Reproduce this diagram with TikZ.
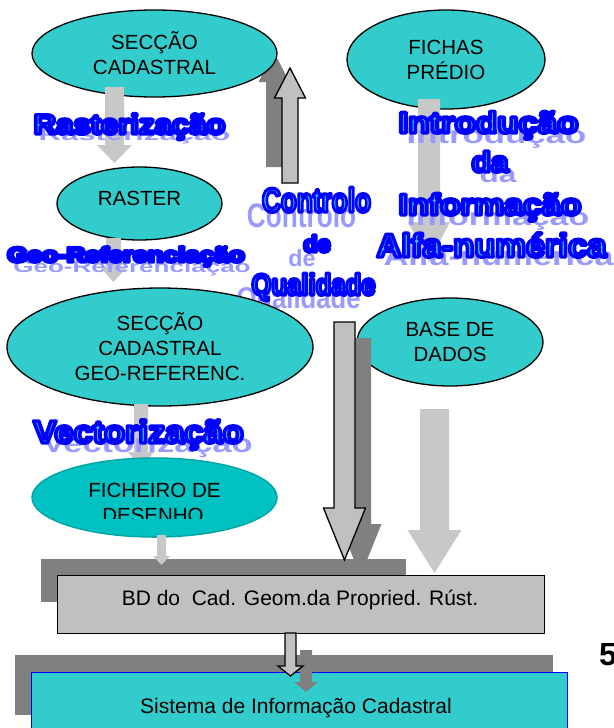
\documentclass[tikz,border=0pt]{standalone}
\usepackage{fontspec}
\setmainfont{Liberation Sans}
\newfontfamily\wfont{Liberation Sans}
\usetikzlibrary{shapes.geometric,calc}
\definecolor{turq}{HTML}{33CCCC}
\definecolor{fichc}{HTML}{00C2C2}
\definecolor{fichb}{HTML}{00A6A6}
\definecolor{lgray}{HTML}{C8C8C8}
\definecolor{mgray}{HTML}{C0C0C0}
\definecolor{dgray}{HTML}{808080}
\definecolor{wfill}{HTML}{33CCFF}
\definecolor{wshad}{HTML}{9999FF}
\tikzset{
  ell/.style={ellipse, draw=black, line width=1.3pt, fill=turq, inner sep=0pt, align=center, font=\fontsize{20.5}{25}\selectfont},
  txt/.style={inner sep=0pt, font=\fontsize{20.5}{25}\selectfont},
  btxt/.style={inner sep=0pt, font=\fontsize{21}{25}\selectfont},
  oarrow/.style={fill=mgray, draw=black, line width=1.3pt, line join=miter},
  larrow/.style={fill=lgray},
  sarrow/.style={fill=dgray}
}
% block arrow: centre x, start y, head-base y, tip y, half shaft, half head, style
\newcommand\blockarrow[7]{\path[#7] ({#1-#5},#2) -- ({#1+#5},#2) -- ({#1+#5},#3) -- ({#1+#6},#3) -- (#1,#4) -- ({#1-#6},#3) -- ({#1-#5},#3) -- cycle;}
% word art shadow: name, x, baseline y, size, xscale, text, dx, dy, yscale
\newcommand\wshadow[9]{%
  \node[anchor=base, inner sep=0pt, text=wshad] (#1s) at ({#2+#7},{#3+#8}) {\scalebox{#5}[#9]{\wfont\bfseries\fontsize{#4}{#4}\selectfont #6}};}
% word art face: name, x, baseline y, size, xscale, text
\newcommand\wface[6]{%
  \node[anchor=base, inner sep=0pt] (#1) at (#2,#3) {\scalebox{#5}[1]{\wfont\bfseries\fontsize{#4}{#4}\selectfont\color{wfill}\special{pdf:literal direct 2 Tr 3.4 w 1 j 0 0 1 RG}#6\special{pdf:literal direct 0 Tr 0 j 0.4 w}}};}
\begin{document}
\begin{tikzpicture}[x=1pt,y=-1pt]
\useasboundingbox (0,0) rectangle (613,728);
\clip (0,0) rectangle (613,728);
\fill[white] (0,0) rectangle (613,728);
% shadow of the quality-control arrow
\blockarrow{274}{167}{82}{52}{8}{15.5}{sarrow}
% quality-control label (lies under the ellipses)
\wshadow{ctrl}{316.5}{212}{34}{0.77}{Controlo}{-15}{15}{1}
\wshadow{ctde}{317}{252}{23.3}{1.0}{de}{-15}{14}{1}
\wshadow{qual}{313.5}{295}{30}{0.855}{Qualidade}{-15}{13}{1}
\wface{ctrl}{316.5}{212}{34}{0.77}{Controlo}
\wface{ctde}{317}{252}{23.3}{1.0}{de}
\wface{qual}{313.5}{295}{30}{0.855}{Qualidade}
% ellipses
\node[ell, minimum width=245pt, minimum height=87pt] (sec) at (154.5,53.5) {SECÇÃO\\CADASTRAL};
\node[ell, minimum width=198pt, minimum height=99pt] (fichas) at (446,59.5) {FICHAS\\PRÉDIO};
\node[ell, minimum width=165pt, minimum height=73pt, text depth=10pt] (raster) at (139.5,203.5) {RASTER};
\node[ell, minimum width=306pt, minimum height=118pt] (geo) at (160,347) {SECÇÃO\\CADASTRAL\\GEO-REFERENC.};
\node[ell, minimum width=186pt, minimum height=88pt] (base) at (450,342) {BASE DE\\DADOS};
% light grey arrows
\blockarrow{114.5}{87}{145}{163}{9.5}{17.5}{larrow}
\blockarrow{113.5}{238}{267}{282}{7.5}{13.5}{larrow}
\blockarrow{429}{99}{222}{262}{11}{21}{larrow}
\blockarrow{141}{404}{452}{468}{7}{13}{larrow}
% quality-control arrow
\blockarrow{290}{183}{98}{68}{8}{15.5}{oarrow}
% ficheiro de desenho
\node[ellipse, fill=fichc, draw=fichb, line width=1.5pt, minimum width=245pt, minimum height=79pt, inner sep=0pt] (fich) at (154.5,497.5) {};
\node[txt] (fichtxt) at (154.5,490) {FICHEIRO DE};
\begin{scope}
\clip (30,480) rectangle (280,518);
\node[txt, anchor=base] (fichtxtb) at (153,522) {DESENHO};
\end{scope}
% BD box
\fill[dgray] (41,559) rectangle (406,602);
\blockarrow{161.5}{535}{556}{565}{4.5}{8.5}{larrow}
\blockarrow{434.5}{409}{530}{573}{14.5}{27}{larrow}
\blockarrow{360.5}{338}{524}{576}{10.5}{21}{sarrow}
\blockarrow{344.5}{322}{508}{560}{10.5}{21}{oarrow}
\node[fill=mgray, draw=black, line width=1.3pt, minimum width=487pt, minimum height=58pt, inner sep=0pt, anchor=north west] (bd) at (57,575) {};
\node[btxt] (bdtxt) at (300,600) {BD do\ \ Cad. Geom.da Propried. Rúst.};
% Sistema box
\fill[dgray] (15,655) rectangle (553,715);
\node[fill=turq, draw=blue, line width=1pt, minimum width=536pt, minimum height=70pt, inner sep=0pt, anchor=north west] (sis) at (31,672) {};
\node[btxt] (sistxt) at (296,708) {Sistema de Informação Cadastral};
\blockarrow{306}{650}{682}{692}{6}{12}{sarrow}
\blockarrow{290.5}{633}{666}{676}{5.5}{12.5}{oarrow}
% word art
\wshadow{rast}{129.5}{134}{28}{1.11}{Rasterização}{5}{6}{0.6}
\wshadow{geor}{126}{262}{21}{1.24}{Geo-Referenciação}{6}{10}{0.8}
\wshadow{vect}{138.5}{443}{32}{1.075}{Vectorização}{9}{9}{0.8}
\wshadow{intr}{488.5}{133}{30}{1.16}{Introdução}{8}{10}{0.8}
\wshadow{inda}{490}{172}{29}{1.09}{da}{8}{10}{0.8}
\wshadow{info}{490}{215}{30}{1.13}{Informação}{8}{10}{0.8}
\wshadow{alfa}{491.5}{257}{33}{1.045}{Alfa-numérica}{7}{8}{0.8}
\wface{rast}{129.5}{134}{28}{1.11}{Rasterização}
\wface{geor}{126}{262}{21}{1.24}{Geo-Referenciação}
\wface{vect}{138.5}{443}{32}{1.075}{Vectorização}
\wface{intr}{488.5}{133}{30}{1.16}{Introdução}
\wface{inda}{490}{172}{29}{1.09}{da}
\wface{info}{490}{215}{30}{1.13}{Informação}
\wface{alfa}{491.5}{257}{33}{1.045}{Alfa-numérica}
% page number fragment
\node[anchor=base west, inner sep=0pt, font=\bfseries\fontsize{32}{32}\selectfont] (five) at (599,665) {5};
\end{tikzpicture}
\end{document}
